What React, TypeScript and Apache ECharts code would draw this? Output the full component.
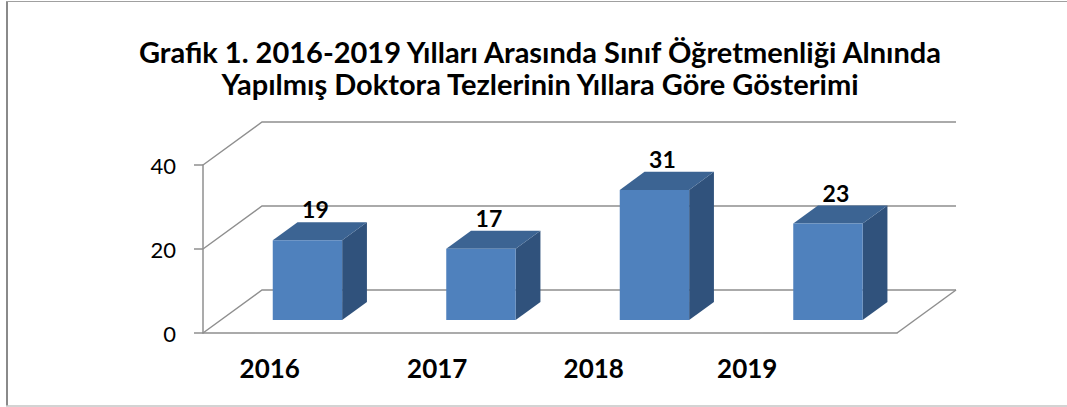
import React, { useEffect, useRef } from "react";
import * as echarts from "echarts";

const categories = ["2016", "2017", "2018", "2019"];
const values = [19, 17, 31, 23];
const yTicks = [0, 20, 40];
const titleLines = [
  "Grafik 1. 2016-2019 Yılları Arasında Sınıf Öğretmenliği Alnında",
  "Yapılmış Doktora Tezlerinin Yıllara Göre Gösterimi",
];

// layout / style constants (not data)
const DEPTH_X = 59;
const DEPTH_Y = 43;
const BAR_FRONT = 0.3;
const BAR_BACK = 0.72;
const BAR_WIDTH_RATIO = 0.4;
const LABEL_SHIFT = [-20, -26, -43, -63];
const FONT = "Lato, 'Noto Sans', sans-serif";
const WALL = "#8f8f8f";

export default function App() {
  const ref = useRef<HTMLDivElement>(null);
  useEffect(() => {
    if (!ref.current) return;
    const chart = echarts.init(ref.current, null, { renderer: "svg" });
    const option: any = {
      animation: false,
      backgroundColor: "#ffffff",
      grid: { left: 203, top: 165, width: 694, height: 168 },
      xAxis: {
        type: "category",
        data: categories,
        axisLine: { show: true, lineStyle: { color: WALL, width: 1.5 } },
        axisTick: { show: false },
        axisLabel: { show: false },
        splitLine: { show: false },
      },
      yAxis: {
        type: "value",
        min: 0,
        max: 40,
        interval: 20,
        axisLine: { show: true, lineStyle: { color: WALL, width: 1.5 } },
        axisTick: { show: true, length: 9, lineStyle: { color: WALL, width: 1.5 } },
        axisLabel: { margin: 27, fontFamily: FONT, fontSize: 22, color: "#000" },
        splitLine: { show: false },
      },
      graphic: [
        { type: "line", shape: { x1: 7, y1: 1, x2: 7, y2: 406 }, style: { stroke: "#8a8a8a", lineWidth: 2 } },
        { type: "line", shape: { x1: 6, y1: 1.5, x2: 1067, y2: 1.5 }, style: { stroke: "#a0a0a0", lineWidth: 1 } },
        { type: "line", shape: { x1: 6, y1: 406, x2: 1067, y2: 406 }, style: { stroke: "#c4c4c4", lineWidth: 1.5 } },
        {
          type: "text",
          x: 540,
          y: 35,
          style: {
            text: titleLines.join("\n"),
            textAlign: "center",
            textVerticalAlign: "top",
            font: `bold 29px ${FONT}`,
            lineHeight: 32,
            fill: "#000",
          },
        },
      ],
      series: [
        {
          type: "custom",
          data: yTicks.map((t) => [0, t]),
          silent: true,
          z: 1,
          renderItem: (params: any, api: any) => {
            const cs = params.coordSys;
            const v = api.value(1);
            const y = api.coord([0, v])[1];
            const x0 = cs.x;
            const x1 = cs.x + cs.width;
            const children: any[] = [
              {
                type: "polyline",
                shape: { points: [[x0, y], [x0 + DEPTH_X, y - DEPTH_Y], [x1 + DEPTH_X, y - DEPTH_Y]] },
                style: { stroke: WALL, lineWidth: 1.5, fill: null },
              },
            ];
            if (v === 0) {
              children.push({
                type: "line",
                shape: { x1: x1, y1: y, x2: x1 + DEPTH_X, y2: y - DEPTH_Y },
                style: { stroke: WALL, lineWidth: 1.5 },
              });
            }
            return { type: "group", children };
          },
        },
        {
          type: "custom",
          data: values.map((v, i) => [i, v]),
          z: 2,
          renderItem: (params: any, api: any) => {
            const i = api.value(0);
            const v = api.value(1);
            const base = api.coord([i, 0]);
            const top = api.coord([i, v]);
            const band = api.size([1, 0])[0];
            const w = band * BAR_WIDTH_RATIO;
            const fx = DEPTH_X * BAR_FRONT;
            const fy = DEPTH_Y * BAR_FRONT;
            const dx = DEPTH_X * (BAR_BACK - BAR_FRONT);
            const dy = DEPTH_Y * (BAR_BACK - BAR_FRONT);
            const xl = base[0] + fx - w / 2;
            const xr = xl + w;
            const yb = base[1] - fy;
            const yt = top[1] - fy;
            return {
              type: "group",
              children: [
                {
                  type: "polygon",
                  shape: { points: [[xr, yt], [xr + dx, yt - dy], [xr + dx, yb - dy], [xr, yb]] },
                  style: { fill: "#30527c" },
                },
                {
                  type: "polygon",
                  shape: { points: [[xl, yt], [xr, yt], [xr + dx, yt - dy], [xl + dx, yt - dy]] },
                  style: { fill: "#3c6493" },
                },
                {
                  type: "rect",
                  shape: { x: xl, y: yt, width: w, height: yb - yt },
                  style: { fill: "#4f81bd" },
                },
                {
                  type: "text",
                  x: base[0] + fx + 8,
                  y: yt - 31,
                  style: {
                    text: String(v),
                    textAlign: "center",
                    textVerticalAlign: "middle",
                    font: `bold 23px ${FONT}`,
                    fill: "#000",
                  },
                },
                {
                  type: "text",
                  x: base[0] + LABEL_SHIFT[i],
                  y: base[1] + 35,
                  style: {
                    text: categories[i],
                    textAlign: "center",
                    textVerticalAlign: "middle",
                    font: `bold 26px ${FONT}`,
                    fill: "#000",
                  },
                },
              ],
            };
          },
        },
      ],
    };
    chart.setOption(option);
    return () => chart.dispose();
  }, []);
  return (
    <div
      ref={ref}
      style={{ position: "fixed", left: 0, top: 0, width: 1067, height: 407 }}
    />
  );
}
